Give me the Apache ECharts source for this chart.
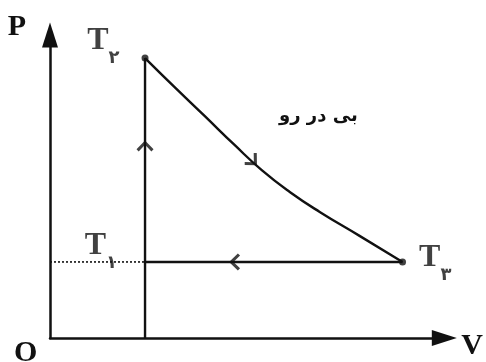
<!DOCTYPE html>
<html>
<head>
<meta charset="utf-8">
<script src="https://cdn.jsdelivr.net/npm/echarts@6/dist/echarts.min.js"></script>
<style>
  html, body { margin: 0; padding: 0; background: #fff; }
  #chart { width: 486px; height: 362px; }
</style>
</head>
<body>
<div id="chart"></div>
<script>
// P-V diagram, values (arbitrary units 0..100)
const curveV = [24.1, 31.6, 39.2, 46.8, 53.7, 60.8, 68.4, 78.5, 89.4];
const curveP = [92.4, 82.8, 73.3, 63.7, 55.4, 48.2, 41.6, 33.7, 25.1];

const riseV = [24.1, 24.1];
const riseP = [0, 92.4];

const backV = [89.4, 24.1];
const backP = [25.1, 25.1];

const dashV = [0, 24.1];
const dashP = [25.1, 25.1];

const stateV = [24.1, 24.1, 89.4];
const stateP = [25.1, 92.4, 25.1];
const stateSub = ['۱', '۲', '۳'];
const stateDot = [false, true, true];

const arrowV = [24.1, 46.8, 51.5];
const arrowP = [63.4, 25.1, 58.3];
const arrowRot = [0, 90, -135];

const caption = 'بی در رو';

const zip = (a, b) => a.map((v, i) => [v, b[i]]);

const ink = '#111';
const serif = '"Liberation Serif", "DejaVu Serif", serif';

const labelPos = [
  { position: 'left', distance: 28, offset: [0, -16] },
  { position: 'left', distance: 22, offset: [0, -17] },
  { position: 'right', distance: 13, offset: [0, -4] }
];

let chart = echarts.init(document.getElementById('chart'));

const option = {
  animation: false,
  backgroundColor: '#fff',
  grid: { left: 50, right: 41, top: 35, bottom: 24 },
  xAxis: {
    type: 'value', min: 0, max: 100,
    name: 'V', nameLocation: 'end', nameGap: 17,
    nameTextStyle: { fontSize: 30, fontWeight: 'bold', fontFamily: serif, color: ink, verticalAlign: 'top', lineHeight: 16 },
    axisLine: { show: true, onZero: false, symbol: ['none', 'triangle'], symbolSize: [16, 25], lineStyle: { color: ink, width: 2.5 } },
    axisTick: { show: false }, axisLabel: { show: false }, splitLine: { show: false }
  },
  yAxis: {
    type: 'value', min: 0, max: 100,
    name: 'P', nameLocation: 'end', nameGap: -7,
    nameTextStyle: { fontSize: 30, fontWeight: 'bold', fontFamily: serif, color: ink, align: 'right', verticalAlign: 'bottom', padding: [0, 24, 0, 0] },
    axisLine: { show: true, onZero: false, symbol: ['none', 'triangle'], symbolSize: [16, 25], lineStyle: { color: ink, width: 2.5 } },
    axisTick: { show: false }, axisLabel: { show: false }, splitLine: { show: false }
  },
  graphic: [
    { type: 'text', left: 14, top: 338, style: { text: 'O', fontSize: 30, fontWeight: 'bold', fontFamily: serif, fill: ink } },
    { type: 'text', left: 279, top: 107, style: { text: caption, fontSize: 18, fontWeight: 'bold', fontFamily: '"DejaVu Sans", sans-serif', fill: ink } }
  ],
  series: [
    {
      name: 'adiabatic', type: 'line', data: zip(curveV, curveP),
      smooth: 0.5,
      symbol: 'none', lineStyle: { color: ink, width: 2.4 }
    },
    {
      name: 'rise', type: 'line', data: zip(riseV, riseP),
      symbol: 'none', lineStyle: { color: ink, width: 2.4 }
    },
    {
      name: 'back', type: 'line', data: zip(backV, backP),
      symbol: 'none', lineStyle: { color: ink, width: 2.4 }
    },
    {
      name: 'guide', type: 'line', data: zip(dashV, dashP),
      symbol: 'none', lineStyle: { color: ink, width: 1.6, type: [2, 2] }
    },
    {
      name: 'arrows', type: 'scatter',
      data: arrowV.map((v, i) => ({ value: [v, arrowP[i]], symbolRotate: arrowRot[i] })),
      symbol: 'path://M0,0L10,10L7.5,12.5L0,5L-7.5,12.5L-10,10Z',
      symbolSize: [17, 11],
      itemStyle: { color: ink }, z: 5
    },
    {
      name: 'states', type: 'scatter',
      data: stateV.map((v, i) => ({
        value: [v, stateP[i]],
        symbolSize: stateDot[i] ? 7 : 0,
        label: Object.assign({ show: true, formatter: '{t|T}{s|' + stateSub[i] + '}' }, labelPos[i])
      })),
      symbol: 'circle',
      itemStyle: { color: ink }, z: 6,
      label: {
        rich: {
          t: { fontSize: 32, fontWeight: 'bold', fontFamily: serif, color: ink },
          s: { fontSize: 18, fontWeight: 'bold', fontFamily: '"DejaVu Sans", sans-serif', color: ink, padding: [34, 0, 0, 0] }
        }
      }
    }
  ]
};

chart.setOption(option);
</script>
</body>
</html>
